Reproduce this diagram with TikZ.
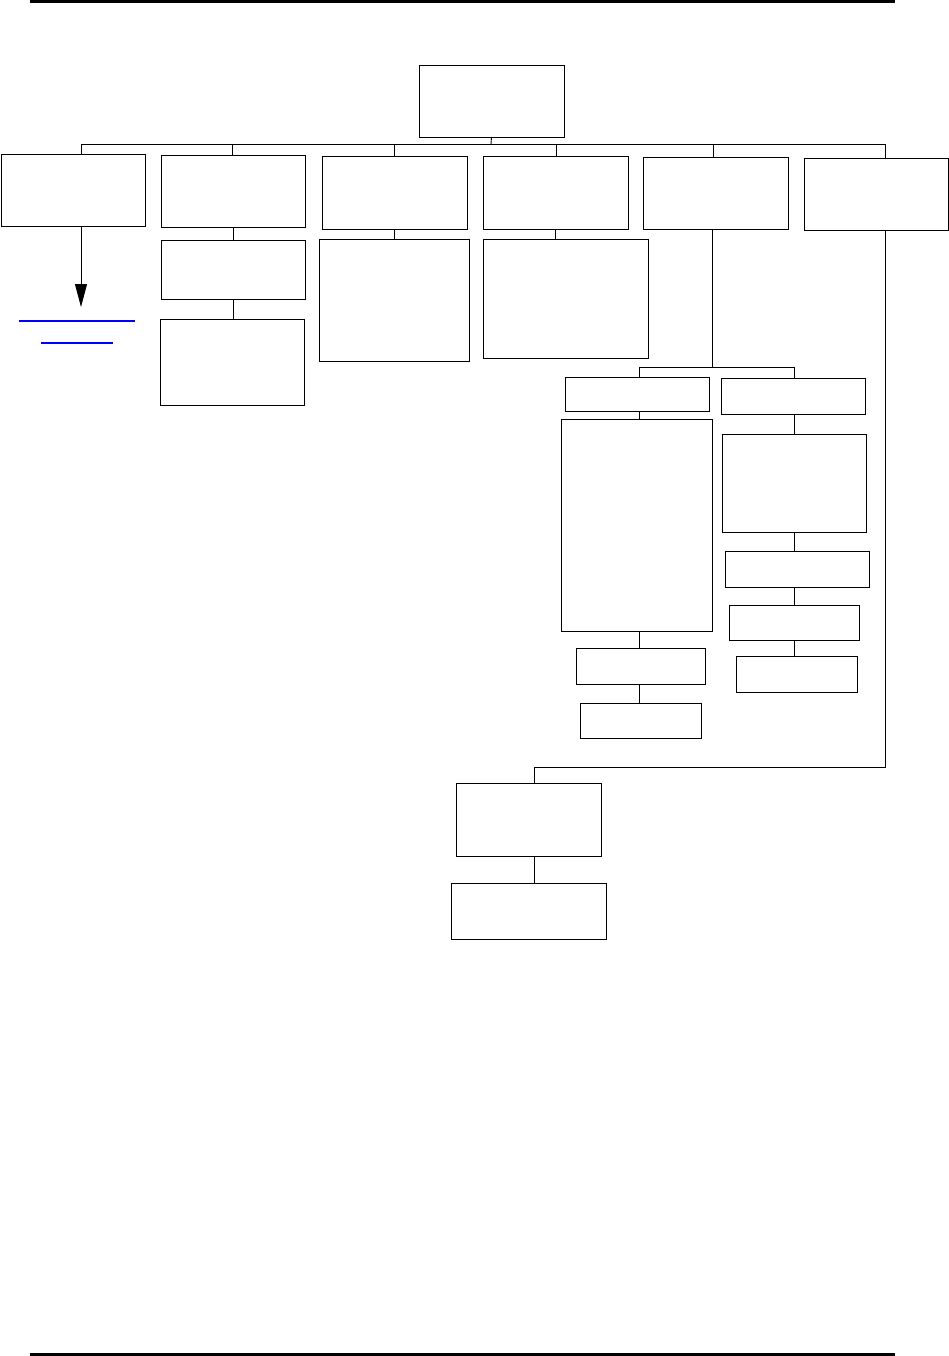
\documentclass[tikz,border=0pt]{standalone}
\usetikzlibrary{arrows.meta}
\begin{document}
\begin{tikzpicture}[x=1pt,y=-1pt,
  box/.style={draw=black,line width=0.85pt,inner sep=0pt,outer sep=0pt,anchor=north west,fill=white},
  conn/.style={draw=black,line width=0.9pt},
  rule/.style={draw=black,line width=3pt},
  link/.style={draw=blue,line width=1.6pt}]
\useasboundingbox (0,0) rectangle (949,1356);
% page rules
\coordinate (rtl) at (30,1.5); \coordinate (rtr) at (895,1.5);
\coordinate (rbl) at (30,1354.5); \coordinate (rbr) at (895,1354.5);
\draw[rule] (rtl) -- (rtr);
\draw[rule] (rbl) -- (rbr);
% boxes
\node[box,minimum width=145pt,minimum height=72pt] (root) at (419,65) {};
\node[box,minimum width=144pt,minimum height=72pt] (B1) at (1,154) {};
\node[box,minimum width=144pt,minimum height=72pt] (B2) at (161,155) {};
\node[box,minimum width=144pt,minimum height=59pt] (B2a) at (161,240) {};
\node[box,minimum width=144pt,minimum height=86pt] (B2b) at (160,319) {};
\node[box,minimum width=145pt,minimum height=73pt] (B3) at (322,156) {};
\node[box,minimum width=150pt,minimum height=122pt] (B3a) at (319,239) {};
\node[box,minimum width=145pt,minimum height=73pt] (B4) at (483,156) {};
\node[box,minimum width=165pt,minimum height=119pt] (B4a) at (483,239) {};
\node[box,minimum width=145pt,minimum height=72pt] (B5) at (643,157) {};
\node[box,minimum width=144pt,minimum height=72pt] (B6) at (804,158) {};
\node[box,minimum width=144pt,minimum height=34pt] (C1) at (565,377) {};
\node[box,minimum width=151pt,minimum height=212pt] (C2) at (561,419) {};
\node[box,minimum width=129pt,minimum height=36pt] (C3) at (576,648) {};
\node[box,minimum width=121pt,minimum height=35pt] (C4) at (580,703) {};
\node[box,minimum width=144pt,minimum height=36pt] (D1) at (721,378) {};
\node[box,minimum width=144pt,minimum height=98pt] (D2) at (722,434) {};
\node[box,minimum width=144pt,minimum height=36pt] (D3) at (725,551) {};
\node[box,minimum width=130pt,minimum height=35pt] (D4) at (729,605) {};
\node[box,minimum width=121pt,minimum height=36pt] (D5) at (736,656) {};
\node[box,minimum width=145pt,minimum height=73pt] (E1) at (456,783) {};
\node[box,minimum width=155pt,minimum height=56pt] (E2) at (451,883) {};
% top bus
\coordinate (busr) at (491,144);
\coordinate (bus1) at (81,144);
\coordinate (bus2) at (232,144);
\coordinate (bus3) at (394,144);
\coordinate (bus4) at (556,144);
\coordinate (bus5) at (713,144);
\coordinate (bus6) at (885,144);
\draw[conn] (root.south) -- (busr);
\draw[conn] (bus1) -- (bus6);
\draw[conn] (bus1) -- (bus1 |- B1.north);
\draw[conn] (bus2) -- (bus2 |- B2.north);
\draw[conn] (bus3) -- (bus3 |- B3.north);
\draw[conn] (bus4) -- (bus4 |- B4.north);
\draw[conn] (bus5) -- (bus5 |- B5.north);
\draw[conn] (bus6) -- (bus6 |- B6.north);
% B1 arrow to link
\coordinate (arrEnd) at (81,307);
\draw[conn,-{Triangle[width=12pt,length=23pt]}] (bus1 |- B1.south) -- (arrEnd);
\coordinate (l1a) at (19,321); \coordinate (l1b) at (135,321);
\coordinate (l2a) at (41,343); \coordinate (l2b) at (113,343);
\draw[link] (l1a) -- (l1b);
\draw[link] (l2a) -- (l2b);
% B2 chain
\draw[conn] (B2.south) -- (B2a.north);
\draw[conn] (B2a.south) -- (B2a.south |- B2b.north);
% B3, B4
\draw[conn] (B3.south) -- (B3.south |- B3a.north);
\draw[conn] (B4.south) -- (B4.south |- B4a.north);
% B5 subtree
\coordinate (b5bus) at (712,367);
\coordinate (b5l) at (639,367);
\coordinate (b5r) at (794,367);
\draw[conn] (b5bus |- B5.south) -- (b5bus);
\draw[conn] (b5l) -- (b5r);
\draw[conn] (b5l) -- (b5l |- C1.north);
\draw[conn] (b5r) -- (b5r |- D1.north);
\draw[conn] (b5l |- C1.south) -- (b5l |- C2.north);
\draw[conn] (b5l |- C2.south) -- (b5l |- C3.north);
\draw[conn] (b5l |- C3.south) -- (b5l |- C4.north);
\draw[conn] (b5r |- D1.south) -- (b5r |- D2.north);
\draw[conn] (b5r |- D2.south) -- (b5r |- D3.north);
\draw[conn] (b5r |- D3.south) -- (b5r |- D4.north);
\draw[conn] (b5r |- D4.south) -- (b5r |- D5.north);
% B6 subtree
\coordinate (b6c) at (885,767);
\coordinate (e1c) at (534,767);
\draw[conn] (bus6 |- B6.south) -- (b6c) -- (e1c) -- (e1c |- E1.north);
\draw[conn] (e1c |- E1.south) -- (e1c |- E2.north);
\end{tikzpicture}
\end{document}
